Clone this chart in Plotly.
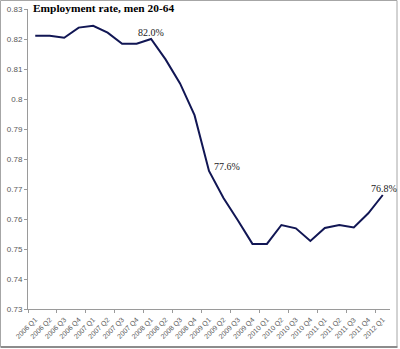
import plotly.graph_objects as go

# Quarterly employment rate for men aged 20-64
quarters = [
    "2006 Q1", "2006 Q2", "2006 Q3", "2006 Q4",
    "2007 Q1", "2007 Q2", "2007 Q3", "2007 Q4",
    "2008 Q1", "2008 Q2", "2008 Q3", "2008 Q4",
    "2009 Q1", "2009 Q2", "2009 Q3", "2009 Q4",
    "2010 Q1", "2010 Q2", "2010 Q3", "2010 Q4",
    "2011 Q1", "2011 Q2", "2011 Q3", "2011 Q4",
    "2012 Q1",
]
rate = [
    0.8211, 0.8211, 0.8204, 0.8238,
    0.8244, 0.8221, 0.8184, 0.8184,
    0.8200, 0.8132, 0.8052, 0.7946,
    0.7760, 0.7670, 0.7595, 0.7517,
    0.7517, 0.7580, 0.7569, 0.7527,
    0.7570, 0.7580, 0.7572, 0.7619,
    0.7680,
]

y_ticks = [0.73, 0.74, 0.75, 0.76, 0.77, 0.78, 0.79, 0.80, 0.81, 0.82, 0.83]
y_tick_text = ["0.73", "0.74", "0.75", "0.76", "0.77", "0.78", "0.79", "0.8", "0.81", "0.82", "0.83"]

# Highlighted points: (quarter index, anchor, x shift, y shift)
callouts = [(8, "center", 0, -1), (12, "left", 3, -3), (24, "center", 1, -1)]

W, H = 400, 349
ML, MR, MT, MB = 28, 10, 9, 40
pw = W - ML - MR
ph = H - MT - MB
x_range = [-0.5, len(quarters) - 0.5]

fig = go.Figure()
fig.add_trace(go.Scatter(
    x=quarters, y=rate, mode="lines",
    line=dict(color="#111654", width=2),
    hoverinfo="x+y", showlegend=False,
))
# Invisible copy on the overlay axis that carries the boundary ticks
fig.add_trace(go.Scatter(
    x=quarters, y=rate, xaxis="x2", mode="lines",
    line=dict(width=0), hoverinfo="skip", showlegend=False,
))

for idx, anchor, xs, ys in callouts:
    fig.add_annotation(
        x=quarters[idx], y=rate[idx],
        text=f"{rate[idx] * 100:.1f}%",
        showarrow=False, xanchor=anchor, yanchor="bottom",
        xshift=xs, yshift=ys,
        font=dict(family="Liberation Serif, Times New Roman, serif", size=10, color="#222222"),
    )

def px_to_paper_x(px):
    return (px - ML) / pw

def px_to_paper_y(py):
    return (H - MB - py) / ph

# Chart title
fig.add_annotation(
    xref="paper", yref="paper",
    x=px_to_paper_x(31), y=px_to_paper_y(7.5), xanchor="left", yanchor="middle",
    text="<b>Employment rate, men 20-64</b>", showarrow=False,
    font=dict(family="Liberation Serif, Times New Roman, serif", size=11.4, color="black"),
)

# Outer frame of the chart area
fig.add_shape(
    type="rect", xref="paper", yref="paper",
    x0=px_to_paper_x(0.5), x1=px_to_paper_x(397), y0=px_to_paper_y(346.5), y1=px_to_paper_y(0.5),
    line=dict(color="#a6a6a6", width=1), layer="below",
)
fig.add_shape(
    type="line", xref="paper", yref="paper",
    x0=px_to_paper_x(0.5), x1=px_to_paper_x(397.5), y0=px_to_paper_y(347), y1=px_to_paper_y(347),
    line=dict(color="#8c8c8c", width=2),
)

fig.update_layout(
    width=W, height=H,
    margin=dict(l=ML, r=MR, t=MT, b=MB, pad=0),
    paper_bgcolor="white", plot_bgcolor="white",
    xaxis=dict(
        type="category", range=x_range, tickangle=-45, automargin=False,
        ticks="", ticklabelstandoff=3,
        showline=True, linecolor="#9a9a9a", linewidth=1,
        showgrid=False, zeroline=False,
        tickfont=dict(family="Liberation Sans, Arial, sans-serif", size=7, color="#595959"),
    ),
    xaxis2=dict(
        type="category", overlaying="x", matches="x", side="bottom", anchor="y",
        tickson="boundaries", ticks="outside", ticklen=3, tickcolor="#9a9a9a",
        showticklabels=False, showline=False, showgrid=False, zeroline=False,
    ),
    yaxis=dict(
        range=[0.73, 0.83], tickvals=y_ticks, ticktext=y_tick_text,
        ticks="outside", ticklen=3, tickcolor="#9a9a9a",
        showline=True, linecolor="#9a9a9a", linewidth=1,
        showgrid=False, zeroline=False, automargin=False,
        tickfont=dict(family="Liberation Sans, Arial, sans-serif", size=8, color="#595959"),
    ),
)

fig.write_html("out.html")
